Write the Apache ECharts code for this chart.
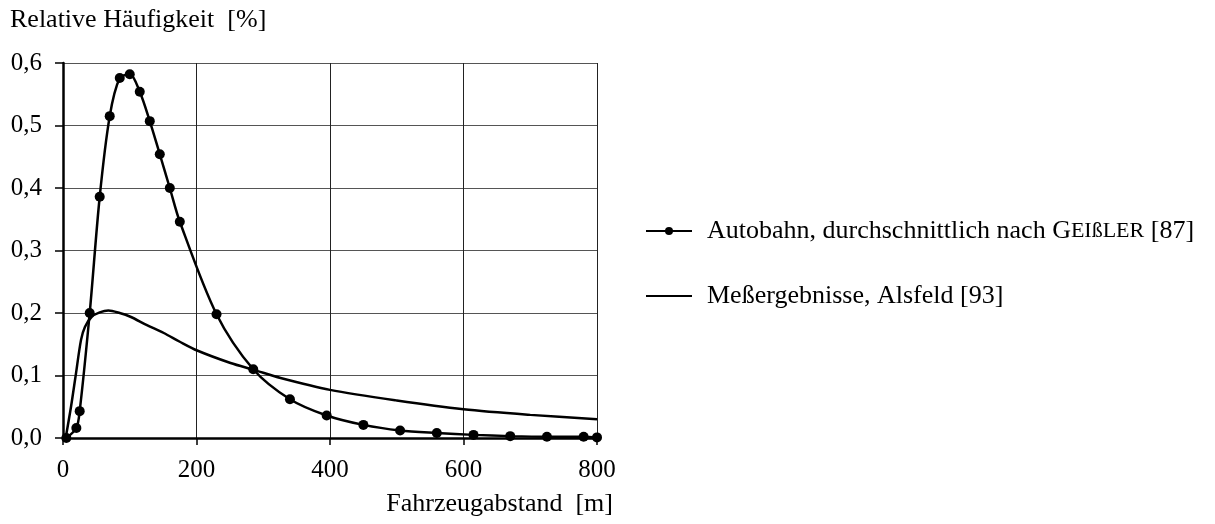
<!DOCTYPE html>
<html>
<head>
<meta charset="utf-8">
<script src="https://cdn.jsdelivr.net/npm/echarts@6/dist/echarts.min.js"></script>
<style>
  html, body { margin: 0; padding: 0; background: #fff; }
  #chart { width: 1215px; height: 524px; }
</style>
</head>
<body>
<div id="chart"></div>
<script>
// Autobahn, durchschnittlich nach Geißler [87] (Punkte)
var autobahnX = [5, 20, 25, 40, 55, 70, 85, 100, 115, 130, 145, 160, 175, 230, 285, 340, 395, 450, 505, 560, 615, 670, 725, 780, 800];
var autobahnY = [0, 0.016, 0.043, 0.2, 0.386, 0.515, 0.576, 0.582, 0.554, 0.507, 0.454, 0.4, 0.346, 0.198, 0.11, 0.062, 0.036, 0.021, 0.012, 0.008, 0.005, 0.003, 0.002, 0.002, 0.001];

// Meßergebnisse, Alsfeld [93] (Linie)
var alsfeldX = [4, 12, 19, 27, 33, 43, 55, 68, 85, 101, 125, 151, 175, 201, 251, 286, 326, 400, 500, 600, 700, 800];
var alsfeldY = [0, 0.05, 0.1, 0.157, 0.178, 0.194, 0.201, 0.204, 0.2, 0.194, 0.181, 0.168, 0.154, 0.14, 0.12, 0.109, 0.096, 0.077, 0.06, 0.046, 0.037, 0.03];

var xTicks = [0, 200, 400, 600, 800];
var yTicks = [0, 0.1, 0.2, 0.3, 0.4, 0.5, 0.6];

function pairs(xs, ys) {
  return xs.map(function (x, i) { return [x, ys[i]]; });
}

var font = 'Liberation Serif';
var chart = echarts.init(document.getElementById('chart'));

var option = {
  animation: false,
  backgroundColor: '#fff',
  textStyle: { fontFamily: font, color: '#000' },
  grid: { left: 63, right: 618, top: 63, bottom: 86 },
  legend: {
    orient: 'vertical',
    left: 640,
    top: 213,
    itemGap: 39,
    itemWidth: 46,
    itemHeight: 10,
    data: [
      { name: 'autobahn' },
      { name: 'alsfeld', itemStyle: { opacity: 0 } }
    ],
    formatter: function (name) {
      if (name === 'autobahn') return 'Autobahn, durchschnittlich nach {c|G}{s|EIßLER} [87]';
      return 'Meßergebnisse, Alsfeld [93]';
    },
    textStyle: {
      fontFamily: font,
      fontSize: 26,
      color: '#000',
      padding: [0, 0, 0, 10],
      rich: {
        c: { fontFamily: font, fontSize: 26, color: '#000' },
        s: { fontFamily: font, fontSize: 22, color: '#000' }
      }
    }
  },
  xAxis: {
    type: 'value',
    min: 0,
    max: 800,
    interval: 200,
    axisLine: { show: true, onZero: false, lineStyle: { color: '#000', width: 2.5 } },
    axisTick: { show: true, inside: false, length: 7, lineStyle: { color: '#000', width: 1.5 } },
    axisLabel: {
      margin: 20,
      fontFamily: font,
      fontSize: 25,
      color: '#000',
      customValues: xTicks
    },
    splitLine: { show: true, lineStyle: { color: '#222', width: 1 } }
  },
  yAxis: {
    type: 'value',
    min: 0,
    max: 0.6,
    interval: 0.1,
    axisLine: { show: true, lineStyle: { color: '#000', width: 2.5 } },
    axisTick: { show: true, inside: false, length: 8, lineStyle: { color: '#000', width: 1.5 } },
    axisLabel: {
      margin: 21,
      fontFamily: font,
      fontSize: 25,
      color: '#000',
      formatter: function (v) { return v.toFixed(1).replace('.', ','); }
    },
    splitLine: { show: true, lineStyle: { color: '#555', width: 1.2 } }
  },
  graphic: [
    {
      type: 'text',
      left: 10,
      top: 7,
      style: { text: 'Relative Häufigkeit  [%]', font: '26px "Liberation Serif"', fill: '#000' }
    },
    {
      type: 'text',
      right: 1215 - 613,
      top: 491,
      style: { text: 'Fahrzeugabstand  [m]', font: '26px "Liberation Serif"', fill: '#000' }
    }
  ],
  series: [
    {
      name: 'autobahn',
      type: 'line',
      data: pairs(autobahnX, autobahnY),
      smooth: 0.3,
      symbol: 'circle',
      symbolSize: 10,
      showSymbol: true,
      clip: false,
      itemStyle: { color: '#000' },
      lineStyle: { color: '#000', width: 2.5 },
      z: 3
    },
    {
      name: 'alsfeld',
      type: 'line',
      data: pairs(alsfeldX, alsfeldY),
      smooth: 0.3,
      symbol: 'none',
      showSymbol: false,
      itemStyle: { color: '#000' },
      lineStyle: { color: '#000', width: 2.5 },
      z: 2
    }
  ]
};

chart.setOption(option);
</script>
</body>
</html>
